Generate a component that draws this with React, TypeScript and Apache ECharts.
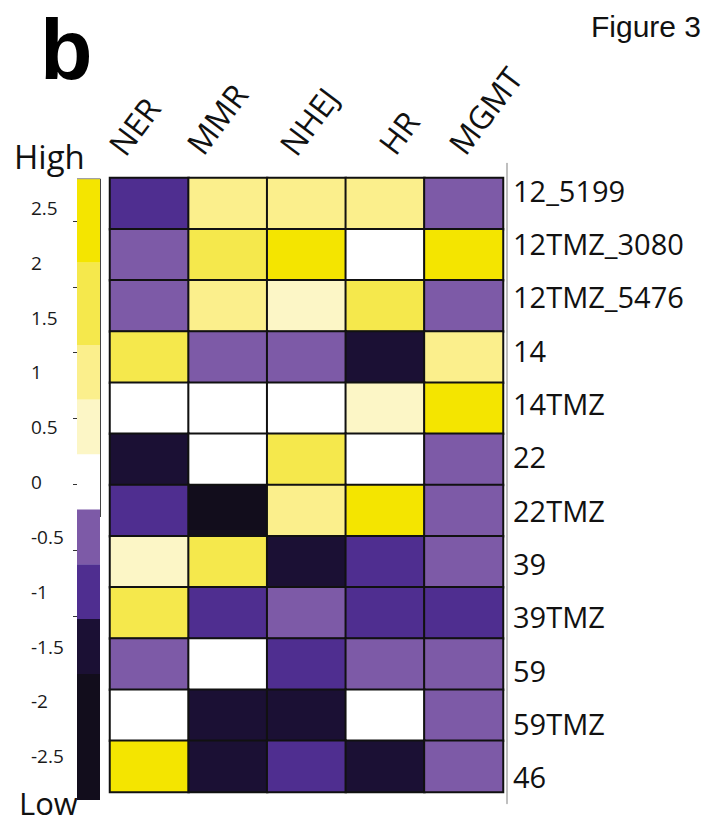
import React, { useEffect, useRef } from "react";
import * as echarts from "echarts";

// ---- data ----
const columns = ["NER", "MMR", "NHEJ", "HR", "MGMT"];
const rows = [
  "12_5199",
  "12TMZ_3080",
  "12TMZ_5476",
  "14",
  "14TMZ",
  "22",
  "22TMZ",
  "39",
  "39TMZ",
  "59",
  "59TMZ",
  "46",
];
// values per row (columns: NER, MMR, NHEJ, HR, MGMT), estimated from the colour bins
const r12_5199 = [-1.05, 0.95, 1.0, 0.95, -0.55];
const r12TMZ_3080 = [-0.5, 1.55, 2.3, 0.05, 2.4];
const r12TMZ_5476 = [-0.55, 0.9, 0.5, 1.6, -0.6];
const r14 = [1.55, -0.5, -0.55, -1.6, 1.0];
const r14TMZ = [0.0, -0.05, 0.05, 0.55, 2.2];
const r22 = [-1.55, 0.1, 1.5, -0.1, -0.5];
const r22TMZ = [-1.1, -2.2, 0.95, 2.5, -0.6];
const r39 = [0.5, 1.6, -1.6, -1.0, -0.55];
const r39TMZ = [1.5, -1.05, -0.5, -1.0, -0.95];
const r59 = [-0.6, 0.0, -1.1, -0.6, -0.55];
const r59TMZ = [0.05, -1.6, -1.55, 0.0, -0.5];
const r46 = [2.2, -1.5, -1.0, -1.65, -0.6];
const matrix = [r12_5199, r12TMZ_3080, r12TMZ_5476, r14, r14TMZ, r22, r22TMZ, r39, r39TMZ, r59, r59TMZ, r46];

// colour scale bins (upper thresholds, high to low)
const thresholds = [2, 1.25, 0.75, 0.25, -0.25, -0.75, -1.25, -1.75];
const binColors = [
  "#f4e500",
  "#f5e84c",
  "#fbef8c",
  "#fcf6c6",
  "#ffffff",
  "#7d5aa7",
  "#4f2e90",
  "#1b1034",
  "#120d1c",
];
const legendMax = 2.76;
const legendMin = -2.9;
const legendTicks = ["-2.5", "-2", "-1.5", "-1", "-0.5", "0", "0.5", "1", "1.5", "2", "2.5"];

// ---- layout ----
const colLabelPos = [
  [115.4, 150.8],
  [193.4, 149.8],
  [286.4, 150.8],
  [385.4, 149.8],
  [455.4, 149.8],
];
const colLabelAngle = (53 * Math.PI) / 180;

export default function App() {
  const ref = useRef<HTMLDivElement>(null);
  useEffect(() => {
    if (!ref.current) return;
    const chart = echarts.init(ref.current, undefined, { renderer: "svg" });

    const heatData: number[][] = [];
    matrix.forEach((row, yi) => row.forEach((v, xi) => heatData.push([xi, yi, v])));

    const pieces: any[] = [];
    for (let i = 0; i < binColors.length; i++) {
      const p: any = { color: binColors[i] };
      if (i > 0) p.lt = thresholds[i - 1];
      if (i < thresholds.length) p.gte = thresholds[i];
      pieces.push(p);
    }

    const bounds = [legendMax, ...thresholds, legendMin];
    const legendData = binColors.map((_, i) => [bounds[i + 1], bounds[i], i]);

    const font = "Open Sans";
    const option: any = {
      animation: false,
      backgroundColor: "#ffffff",
      textStyle: { fontFamily: font },
      grid: [
        { left: 110, top: 178, width: 393, height: 614 },
        { left: 110, top: 163.4, width: 397, height: 640 },
        { left: 77, top: 153, width: 23, height: 658 },
        { left: 77, top: 221, width: 23, height: 395 },
      ],
      xAxis: [
        { gridIndex: 0, type: "category", data: columns, position: "top", show: false },
        { gridIndex: 1, type: "category", data: columns, show: false },
        { gridIndex: 2, type: "value", min: 0, max: 1, show: false },
        { gridIndex: 3, type: "value", min: 0, max: 1, show: false },
      ],
      yAxis: [
        { gridIndex: 0, type: "category", data: rows, inverse: true, show: false },
        {
          gridIndex: 1,
          type: "category",
          data: rows,
          inverse: true,
          position: "right",
          axisLine: { show: true, lineStyle: { color: "#aaaaaa", width: 1.5 } },
          axisTick: { show: false },
          splitLine: { show: false },
          axisLabel: { interval: 0, fontSize: 29, color: "#111111", margin: 6, fontFamily: font },
        },
        {
          gridIndex: 2,
          type: "value",
          min: -3,
          max: 3,
          interval: 0.5,
          position: "left",
          axisLine: { show: false },
          axisTick: { show: false },
          splitLine: { show: false },
          axisLabel: {
            showMinLabel: false,
            showMaxLabel: false,
            align: "left",
            margin: 46,
            fontSize: 19,
            color: "#1a1a1a",
            fontFamily: font,
            formatter: (v: number) => {
              const s = legendTicks.find((t) => Math.abs(parseFloat(t) - v) < 1e-6);
              return s ?? "";
            },
          },
        },
        {
          gridIndex: 3,
          type: "value",
          min: 0,
          max: 6,
          interval: 1,
          position: "right",
          axisLine: { show: false },
          axisTick: { show: true, inside: true, length: 4, lineStyle: { color: "#333333", width: 1 } },
          axisLabel: { show: false },
          splitLine: { show: false },
        },
      ],
      visualMap: {
        type: "piecewise",
        show: false,
        seriesIndex: 0,
        dimension: 2,
        pieces,
      },
      series: [
        {
          type: "heatmap",
          xAxisIndex: 0,
          yAxisIndex: 0,
          data: heatData,
          itemStyle: { borderColor: "#111111", borderWidth: 2 },
          emphasis: { disabled: true },
        },
        {
          type: "custom",
          xAxisIndex: 2,
          yAxisIndex: 2,
          data: legendData,
          encode: { x: -1, y: [0, 1] },
          renderItem: (_params: any, api: any) => {
            const lo = api.value(0);
            const hi = api.value(1);
            const idx = api.value(2);
            const p1 = api.coord([0, hi]);
            const p2 = api.coord([1, lo]);
            return {
              type: "rect",
              shape: { x: p1[0], y: p1[1], width: p2[0] - p1[0], height: p2[1] - p1[1] },
              style: { fill: binColors[idx] },
            };
          },
        },
      ],
      graphic: [
        ...columns.map((c, i) => ({
          type: "text",
          x: colLabelPos[i][0],
          y: colLabelPos[i][1],
          rotation: colLabelAngle,
          style: {
            text: c,
            font: `32px "${font}"`,
            fill: "#111111",
            align: "left",
            verticalAlign: "middle",
          },
        })),
        {
          type: "text",
          x: 40,
          y: 49,
          style: {
            text: "b",
            font: 'bold 86px "Liberation Sans"',
            fill: "#000000",
            align: "left",
            verticalAlign: "middle",
          },
        },
        {
          type: "text",
          x: 591,
          y: 26.5,
          style: { text: "Figure 3", font: '30px "Liberation Sans"', fill: "#111111", align: "left", verticalAlign: "middle" },
        },
        {
          type: "text",
          x: 14,
          y: 156,
          style: { text: "High", font: `33px "${font}"`, fill: "#111111", align: "left", verticalAlign: "middle" },
        },
        {
          type: "text",
          x: 19,
          y: 803,
          style: {
            text: "Low",
            font: `31px "${font}"`,
            fill: "#111111",
            align: "left",
            verticalAlign: "middle",
          },
        },
        {
          type: "polyline",
          shape: { points: [[77, 179], [100.5, 179], [100.5, 517]] },
          style: { stroke: "#444444", lineWidth: 1, fill: null },
        },
      ],
    };
    chart.setOption(option);
    return () => chart.dispose();
  }, []);
  return (
    <div
      ref={ref}
      style={{ position: "fixed", left: 0, top: 0, width: 707, height: 825, background: "#fff" }}
    />
  );
}
